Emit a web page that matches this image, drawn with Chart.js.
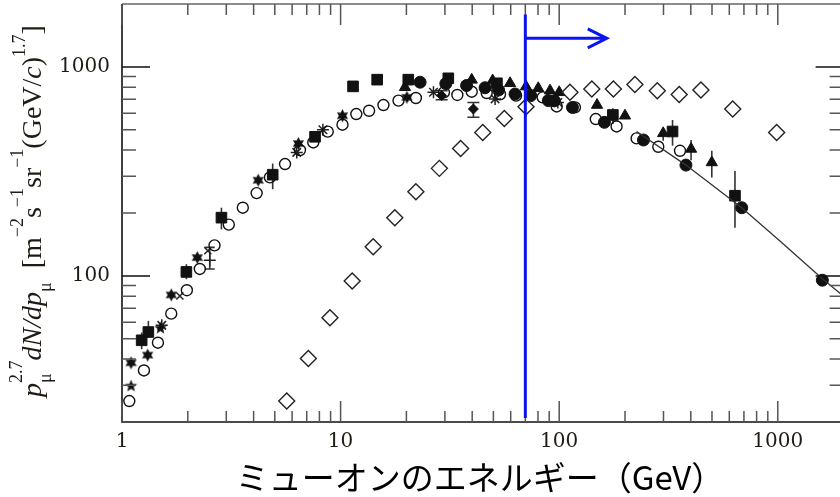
<!DOCTYPE html>
<html>
<head>
<meta charset="utf-8">
<script src="https://cdn.jsdelivr.net/npm/chart.js@4.4.1/dist/chart.umd.min.js"></script>
<style>
  html, body { margin: 0; padding: 0; background: #fff; overflow: hidden; }
  #wrap { width: 840px; height: 497px; overflow: hidden; }
</style>
</head>
<body>
<div id="wrap"><canvas id="muonChart" width="846" height="497"></canvas></div>
<script>
// Muon momentum p (GeV/c) and flux p^2.7 dN/dp for each experiment
const openCircleP = [1.08, 1.26, 1.46, 1.68, 1.98, 2.27, 2.65, 3.08, 3.57, 4.13, 4.75, 5.57, 6.52, 7.5, 8.73, 10.2, 11.8, 13.5, 15.7, 18.4, 22.1, 29.7, 34.2, 39.8, 46.6, 53.6, 63.5, 84, 97.4, 118, 147, 183, 226, 284, 357];
const openCircleF = [25.2, 35.3, 47.9, 66, 85.4, 108, 140, 176, 212, 249, 296, 343, 400, 435, 490, 529, 595, 617, 657, 690, 710, 756, 734, 761, 750, 740, 729, 715, 647, 640, 563, 519, 455, 415, 397];

const filledCircleP = [23.1, 30.3, 37.7, 45.8, 52.8, 62.8, 74.1, 89.2, 95, 115, 161, 243, 380, 684, 1599];
const filledCircleF = [845, 832, 815, 795, 775, 742, 729, 690, 688, 640, 543, 447, 339, 212, 95.4];

const squareP = [1.23, 1.32, 1.97, 2.85, 4.89, 7.64, 11.4, 14.7, 20.4, 31.1, 51.9, 176, 330, 637];
const squareF = [49.2, 53.9, 104.5, 190, 305, 463, 807, 869, 869, 882, 835, 589, 491, 242];
const squareLo = [44.6, 50.7, 96.4, 167, 260, null, null, null, null, null, null, 533, 420, 170];
const squareHi = [53.6, 60.9, 113.8, 212, 345, null, null, null, null, null, null, 634, 557, 318];

const triangleP = [19.7, 39.8, 49.6, 59.6, 70.5, 80.2, 90.8, 100, 149, 200, 299, 401, 499];
const triangleF = [799, 867, 860, 835, 805, 790, 770, 756, 657, 584, 481, 405, 349];
const triangleLo = [null, null, null, null, null, null, null, null, null, null, 443, 358, 296];
const triangleHi = [null, null, null, null, null, null, null, null, null, null, 503, 447, 397];

const diamondP = [5.67, 7.12, 8.94, 11.3, 14.1, 17.7, 22.1, 28.3, 35.4, 44.7, 56.1, 70.5, 112, 141, 177, 222, 281, 354, 445, 622, 988];
const diamondF = [25.2, 40.3, 63.1, 94.6, 138, 190, 253, 327, 407, 486, 567, 645, 756, 785, 785, 823, 770, 737, 776, 629, 486];

const smallDiamondP = [29, 40.5];
const smallDiamondF = [729, 629];
const smallDiamondLo = [697, 574];
const smallDiamondHi = [770, 676];

const hexStarP = [1.10, 1.31, 1.68, 2.21, 4.2, 6.41, 10.2, 20.1];
const hexStarF = [38.4, 41.8, 81.1, 122.4, 287, 430, 584, 715];

const fiveStarP = [1.10, 1.50];
const fiveStarF = [29.7, 56.2];

const asteriskP = [1.52, 6.3, 8.3, 26.6, 50.9, 98.6];
const asteriskF = [58, 390, 500, 756, 703, 676];

const crossP = [1.84, 2.47];
const crossF = [80.2, 132];

const plusP = [2.52];
const plusF = [119];
const plusLo = [108];
const plusHi = [137];

// spectrum fit above ~200 GeV
const fitP = [226, 380, 684, 1023, 1600, 2000];
const fitF = [491, 339, 212, 147, 97, 80];

// axis ticks
const xMajor = [1, 10, 100, 1000];
const xMinor = [2, 3, 4, 5, 6, 7, 8, 9, 20, 30, 40, 50, 60, 70, 80, 90, 200, 300, 400, 500, 600, 700, 800, 900];
const yMajor = [100, 1000];
const yMinor = [30, 40, 50, 60, 70, 80, 90, 200, 300, 400, 500, 600, 700, 800, 900];

// selection marker: E > 70 GeV
const cutP = 70;
const cutTop = 1780;
const arrowEndP = 165;
const arrowF = 1370;

const xTitle = 'ミューオンのエネルギー（GeV）';

const toXY = (P, F) => P.map((p, i) => ({ x: p, y: F[i] }));

function starCanvas(points, outer, inner) {
  const size = Math.ceil(outer * 2 + 2);
  const c = document.createElement('canvas');
  c.width = size; c.height = size;
  const g = c.getContext('2d');
  g.translate(size / 2, size / 2);
  g.beginPath();
  for (let i = 0; i < points * 2; i++) {
    const r = i % 2 === 0 ? outer : inner;
    const a = -Math.PI / 2 + i * Math.PI / points;
    g.lineTo(r * Math.cos(a), r * Math.sin(a));
  }
  g.closePath();
  g.fillStyle = '#111';
  g.fill();
  return c;
}

const hexStar = starCanvas(6, 6.5, 3.6);
const fiveStar = starCanvas(5, 6.5, 2.8);

function errorBars(ctx, chart, P, Lo, Hi, cap) {
  const xs = chart.scales.x, ys = chart.scales.y;
  ctx.save();
  ctx.strokeStyle = '#333';
  ctx.lineWidth = 1.6;
  P.forEach((p, i) => {
    if (Lo[i] == null) return;
    const x = xs.getPixelForValue(p);
    const y1 = ys.getPixelForValue(Lo[i]);
    const y2 = ys.getPixelForValue(Hi[i]);
    ctx.beginPath();
    ctx.moveTo(x, y1); ctx.lineTo(x, y2);
    if (cap) {
      ctx.moveTo(x - cap, y1); ctx.lineTo(x + cap, y1);
      ctx.moveTo(x - cap, y2); ctx.lineTo(x + cap, y2);
    }
    ctx.stroke();
  });
  ctx.restore();
}

// rotated y title with sub/superscripts
const yTitleParts = [
  { t: 'p', it: true },
  { t: '2.7', sz: 18, dy: -19, stack: true },
  { t: 'μ', sz: 18, dy: 10 },
  { t: 'dN/dp', it: true },
  { t: 'μ', sz: 18, dy: 10 },
  { t: '  [m' },
  { t: '−2', sz: 18, dy: -18 },
  { t: 's' },
  { t: '−1', sz: 18, dy: -18 },
  { t: 'sr' },
  { t: '−1', sz: 18, dy: -18 },
  { t: '(GeV/' },
  { t: 'c', it: true },
  { t: ')' },
  { t: '1.7', sz: 18, dy: -16 },
  { t: ']' }
];

function drawYTitle(ctx, area) {
  const base = 28;
  const fontOf = p => (p.it ? 'italic ' : '') + (p.sz || base) + 'px "Liberation Serif"';
  let total = 0, held = 0;
  yTitleParts.forEach(p => {
    ctx.font = fontOf(p);
    const w = ctx.measureText(p.t).width;
    if (p.stack) { held = w; return; }
    total += Math.max(w, held); held = 0;
  });
  const cy = (area.top + area.bottom) / 2 - 2;
  ctx.save();
  ctx.translate(41, cy);
  ctx.rotate(-Math.PI / 2);
  ctx.fillStyle = '#1e1a14';
  ctx.textBaseline = 'alphabetic';
  let u = -total / 2;
  held = 0;
  yTitleParts.forEach(p => {
    ctx.font = fontOf(p);
    ctx.fillText(p.t, u, p.dy || 0);
    const w = ctx.measureText(p.t).width;
    if (p.stack) { held = w; return; }
    u += Math.max(w, held); held = 0;
  });
  ctx.restore();
}

const frame = {
  id: 'frame',
  beforeDatasetsDraw(chart) {
    const ctx = chart.ctx;
    errorBars(ctx, chart, squareP, squareLo, squareHi, 0);
    errorBars(ctx, chart, triangleP, triangleLo, triangleHi, 0);
    errorBars(ctx, chart, smallDiamondP, smallDiamondLo, smallDiamondHi, 6);
    errorBars(ctx, chart, plusP, plusLo, plusHi, 5);
  },
  afterDatasetsDraw(chart) {
    const ctx = chart.ctx, a = chart.chartArea;
    const xs = chart.scales.x, ys = chart.scales.y;
    ctx.save();
    // frame lines
    ctx.lineWidth = 1.6;
    ctx.strokeStyle = '#666';
    ctx.beginPath(); ctx.moveTo(a.left, a.top); ctx.lineTo(a.right, a.top); ctx.stroke();
    ctx.beginPath(); ctx.moveTo(a.right, a.top); ctx.lineTo(a.right, a.bottom); ctx.stroke();
    ctx.strokeStyle = '#111';
    ctx.beginPath(); ctx.moveTo(a.left, a.top); ctx.lineTo(a.left, a.bottom); ctx.lineTo(a.right, a.bottom); ctx.stroke();
    // inward ticks on all four sides
    ctx.strokeStyle = '#555';
    ctx.lineWidth = 1.5;
    const xt = (vals, len) => vals.forEach(v => {
      const x = xs.getPixelForValue(v);
      ctx.beginPath();
      ctx.moveTo(x, a.bottom); ctx.lineTo(x, a.bottom - len);
      ctx.moveTo(x, a.top); ctx.lineTo(x, a.top + len);
      ctx.stroke();
    });
    const yt = (vals, len) => vals.forEach(v => {
      const y = ys.getPixelForValue(v);
      ctx.beginPath();
      ctx.moveTo(a.left, y); ctx.lineTo(a.left + len, y);
      ctx.moveTo(a.right, y); ctx.lineTo(a.right - len, y);
      ctx.stroke();
    });
    xt(xMajor, 21);
    xt(xMinor, 11);
    ctx.strokeStyle = '#111';
    yt(yMajor, 28);
    ctx.strokeStyle = '#555';
    yt(yMinor, 14);
    // selection line and arrow
    const cx = xs.getPixelForValue(cutP);
    const ay = ys.getPixelForValue(arrowF);
    const ax = xs.getPixelForValue(arrowEndP);
    ctx.strokeStyle = '#0a14f0';
    ctx.lineWidth = 3;
    ctx.beginPath();
    ctx.moveTo(cx, ys.getPixelForValue(cutTop)); ctx.lineTo(cx, a.bottom - 4);
    ctx.moveTo(cx, ay); ctx.lineTo(ax, ay);
    ctx.moveTo(ax - 19, ay - 9.5); ctx.lineTo(ax, ay); ctx.lineTo(ax - 19, ay + 9.5);
    ctx.stroke();
    ctx.restore();
  },
  afterDraw(chart) {
    const ctx = chart.ctx, a = chart.chartArea;
    drawYTitle(ctx, a);
    ctx.save();
    ctx.font = '33px "Noto Sans CJK JP"';
    ctx.fillStyle = '#000';
    ctx.textAlign = 'center';
    ctx.textBaseline = 'middle';
    ctx.fillText(xTitle, 480, 477);
    ctx.restore();
  }
};

const serif = { family: 'DejaVu Serif', size: 20 };
const near = (v, list) => list.some(l => Math.abs(v - l) < 1e-6);
const noPad = s => { s.paddingTop = 0; s.paddingBottom = 0; s.paddingLeft = 0; s.paddingRight = 0; };

new Chart(document.getElementById('muonChart'), {
  type: 'scatter',
  data: {
    datasets: [
      {
        type: 'line', data: toXY(fitP, fitF), borderColor: '#333', borderWidth: 1.3,
        pointRadius: 0, fill: false, tension: 0
      },
      {
        data: toXY(diamondP, diamondF), pointStyle: 'rectRot', pointRadius: 8,
        borderColor: '#222', borderWidth: 1.4, backgroundColor: 'rgba(0,0,0,0)'
      },
      {
        data: toXY(openCircleP, openCircleF), pointStyle: 'circle', pointRadius: 5.5,
        borderColor: '#111', borderWidth: 1.4, backgroundColor: 'rgba(0,0,0,0)'
      },
      {
        data: toXY(filledCircleP, filledCircleF), pointStyle: 'circle', pointRadius: 6,
        borderColor: '#111', borderWidth: 1, backgroundColor: '#111'
      },
      {
        data: toXY(squareP, squareF), pointStyle: 'rect', pointRadius: 7.5,
        borderColor: '#111', borderWidth: 1, backgroundColor: '#111'
      },
      {
        data: toXY(triangleP, triangleF), pointStyle: 'triangle', pointRadius: 6.5,
        borderColor: '#111', borderWidth: 1, backgroundColor: '#111'
      },
      {
        data: toXY(smallDiamondP, smallDiamondF), pointStyle: 'rectRot', pointRadius: 5,
        borderColor: '#111', borderWidth: 1, backgroundColor: '#111'
      },
      { data: toXY(hexStarP, hexStarF), pointStyle: hexStar },
      { data: toXY(fiveStarP, fiveStarF), pointStyle: fiveStar },
      {
        data: toXY(asteriskP, asteriskF), pointStyle: 'star', pointRadius: 6,
        borderColor: '#222', borderWidth: 1.5
      },
      {
        data: toXY(crossP, crossF), pointStyle: 'crossRot', pointRadius: 5,
        borderColor: '#222', borderWidth: 1.5
      },
      {
        data: toXY(plusP, plusF), pointStyle: 'cross', pointRadius: 6,
        borderColor: '#222', borderWidth: 1.5
      }
    ]
  },
  options: {
    responsive: false,
    animation: false,
    layout: { autoPadding: false, padding: { top: 4, right: 2.4, left: 0, bottom: 0 } },
    plugins: { legend: { display: false }, tooltip: { enabled: false } },
    scales: {
      x: {
        type: 'logarithmic', min: 1, max: 2000,
        grid: { display: false, drawTicks: false },
        border: { display: false },
        afterFit: s => { s.height = 75; noPad(s); },
        ticks: {
          autoSkip: false, maxRotation: 0, padding: 8, font: serif, color: '#1e1a14',
          callback: v => near(v, xMajor) ? String(v) : ''
        }
      },
      y: {
        type: 'logarithmic', min: 20, max: 2000,
        grid: { display: false, drawTicks: false },
        border: { display: false },
        afterFit: s => { s.width = 122; noPad(s); },
        ticks: {
          autoSkip: false, padding: 12, font: serif, color: '#1e1a14',
          callback: v => near(v, yMajor) ? String(v) : ''
        }
      }
    }
  },
  plugins: [frame]
});
</script>
</body>
</html>
